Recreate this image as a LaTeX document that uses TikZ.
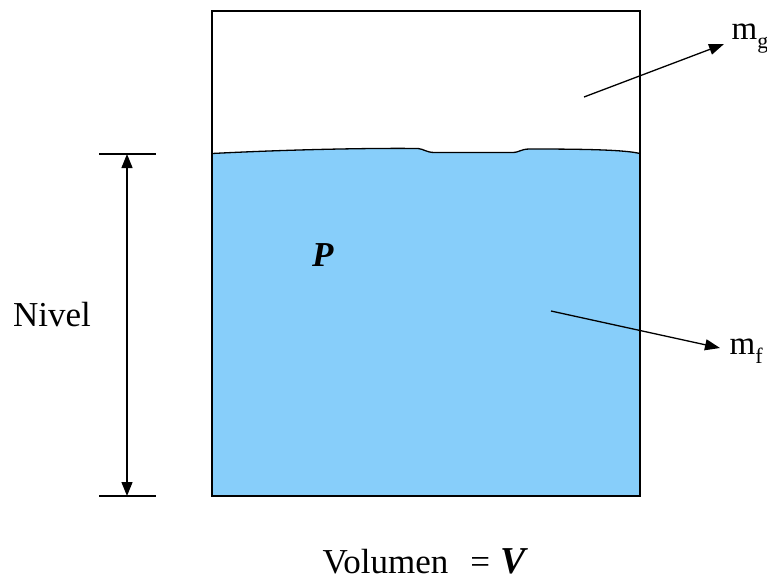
\documentclass[tikz,border=0pt]{standalone}
\usepackage{fontspec}
\setmainfont{Liberation Serif}
\usetikzlibrary{arrows.meta}
\definecolor{water}{RGB}{135,206,250}
\newcommand{\lowsub}[1]{\raisebox{-9pt}{\fontsize{22}{24}\selectfont #1}}
\begin{document}
\begin{tikzpicture}[x=1pt,y=-1pt,
  line width=1.3pt,
  tip/.style={-{Triangle[length=15pt,width=11pt]}},
  dimtip/.style={{Triangle[length=14pt,width=11pt]}-{Triangle[length=14pt,width=11pt]}},
  lbl/.style={font=\fontsize{35}{40}\selectfont, inner sep=0pt},
  sub/.style={font=\fontsize{33}{38}\selectfont, inner sep=0pt, anchor=base west}]
\useasboundingbox (0,0) rectangle (767,581);
% liquid
\fill[water] (212,153.5) .. controls (300,149) and (380,148) .. (418,148.5)
  .. controls (424,149) and (426,152.5) .. (435,152.5) -- (512,152.5)
  .. controls (520,152.5) and (520,149) .. (530,149)
  .. controls (590,149) and (625,150) .. (640,153.5) -- (640,496) -- (212,496) -- cycle;
\draw (212,153.5) .. controls (300,149) and (380,148) .. (418,148.5)
  .. controls (424,149) and (426,152.5) .. (435,152.5) -- (512,152.5)
  .. controls (520,152.5) and (520,149) .. (530,149)
  .. controls (590,149) and (625,150) .. (640,153.5);
% tank
\draw (212,11) rectangle (640,496);
% level dimension
\coordinate (ltop) at (127,154);
\coordinate (lbot) at (127,496);
\coordinate (t1a) at (99,154); \coordinate (t1b) at (156,154);
\coordinate (t2a) at (99,496); \coordinate (t2b) at (156,496);
\draw (t1a) -- (t1b);
\draw (t2a) -- (t2b);
\draw[dimtip] (ltop) -- (lbot);
\node[lbl] (nivel) at (52,315) {Nivel};
% labels
\node[lbl] (P) at (323,255) {\textbf{\textit{P}}};
\node[sub] (mg) at (731,39) {m\lowsub{g}};
\node[sub] (mf) at (729,354) {m\lowsub{f}};
\coordinate (gs) at (584,97);
\coordinate (ge) at (724,44);
\coordinate (fs) at (551,311);
\coordinate (fe) at (720,348);
\draw[tip] (gs) -- (ge);
\draw[tip] (fs) -- (fe);
\node[lbl, anchor=base west] (vol) at (322,573) {Volumen\hspace{22pt}=\hspace{10pt}{\fontsize{38}{40}\selectfont\textbf{\textit{V}}}};
\end{tikzpicture}
\end{document}
